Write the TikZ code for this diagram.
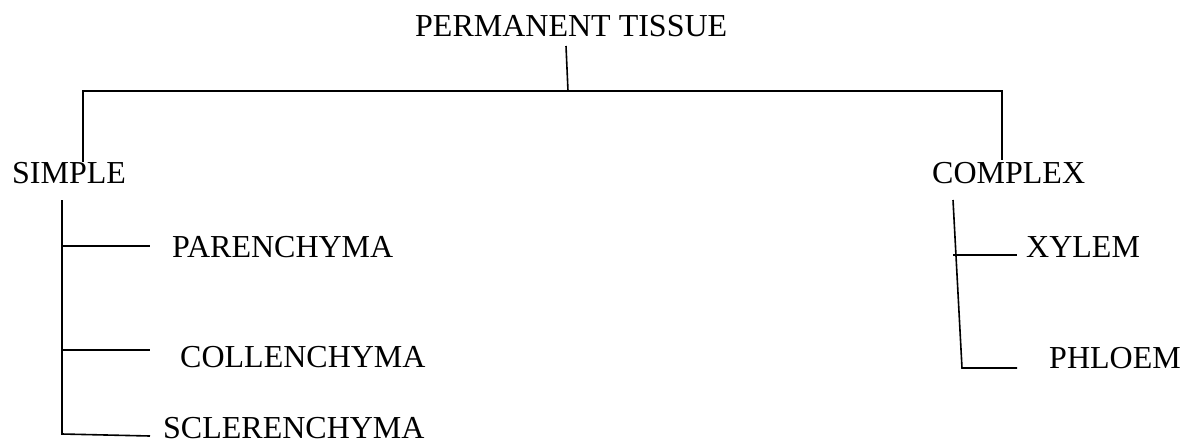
\documentclass[tikz,border=0pt]{standalone}
\usepackage{fontspec}
\setmainfont{Liberation Serif}
\begin{document}
\begin{tikzpicture}[x=1pt,y=-1pt,
  lbl/.style={anchor=base west,inner sep=0pt,font=\fontsize{32}{38}\selectfont},
  conn/.style={draw=black,line width=1.6pt}]
\useasboundingbox (0,0) rectangle (1182,442);
% labels
\node[lbl] (perm) at (415,36) {PERMANENT TISSUE};
\node[lbl] (simple) at (12,183) {SIMPLE};
\node[lbl] (complex) at (932,183) {COMPLEX};
\node[lbl] (paren) at (172,257) {PARENCHYMA};
\node[lbl] (collen) at (180,367) {COLLENCHYMA};
\node[lbl] (scler) at (163,438.5) {SCLERENCHYMA};
\node[lbl] (xylem) at (1026,257) {XYLEM};
\node[lbl] (phloem) at (1049,368) {PHLOEM};
% junction coordinates
\coordinate (t1) at (566,46);
\coordinate (t2) at (568,91);
\coordinate (hl) at (83,91);
\coordinate (hr) at (1002,91);
\coordinate (sl) at (83,162);
\coordinate (cr) at (1002,160);
\coordinate (s0) at (62,200);
\coordinate (s3) at (62,434);
\coordinate (p1) at (62,246);
\coordinate (p2) at (150,246);
\coordinate (c1) at (62,350);
\coordinate (c2) at (150,350);
\coordinate (sc2) at (150,436);
\coordinate (k0) at (953,200);
\coordinate (k3) at (962,368);
\coordinate (x1) at (953,255);
\coordinate (x2) at (1017,255);
\coordinate (ph2) at (1017,368);
% connectors
\draw[conn] (t1) -- (t2);
\draw[conn] (sl) -- (hl) -- (hr) -- (cr);
\draw[conn] (s0) -- (s3) -- (sc2);
\draw[conn] (p1) -- (p2);
\draw[conn] (c1) -- (c2);
\draw[conn] (k0) -- (k3) -- (ph2);
\draw[conn] (x1) -- (x2);
\end{tikzpicture}
\end{document}
